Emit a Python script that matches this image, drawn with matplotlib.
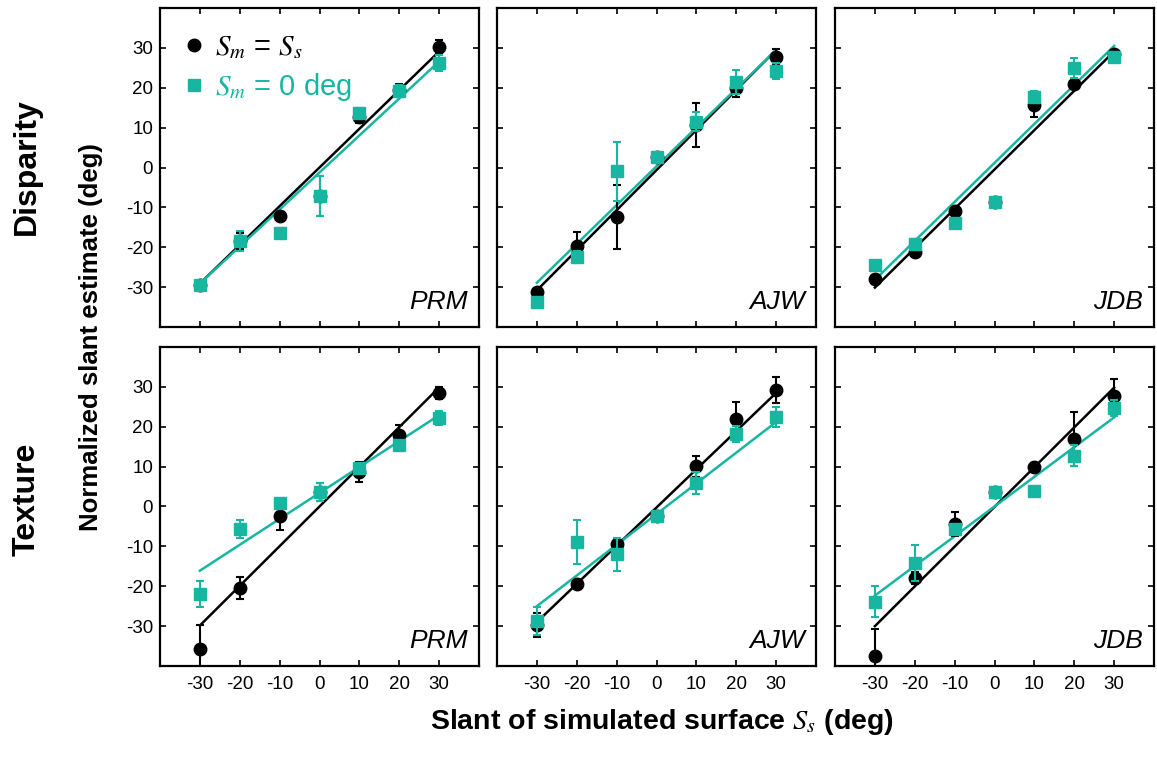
import numpy as np
import matplotlib
matplotlib.use("Agg")
import matplotlib.pyplot as plt
from matplotlib.lines import Line2D

plt.rcParams['font.family'] = ['Liberation Sans', 'DejaVu Sans']
plt.rcParams['mathtext.fontset'] = 'stix'
plt.rcParams['axes.unicode_minus'] = False

BLACK = '#000000'
TEAL = '#17b6a1'

# Data
slants = [-30, -20, -10, 0, 10, 20, 30]
subjects = ['PRM', 'AJW', 'JDB']
cues = ['Disparity', 'Texture']

# Disparity, S_m = S_s (black) and S_m = 0 deg (teal)
disp_prm_same = [-29.5, -18.5, -12.2, -7.1, 12.6, 19.5, 30.2]
disp_prm_same_err = [1.0, 2.0, 0.8, 5.0, 1.5, 1.5, 1.8]
disp_prm_zero = [-29.5, -18.4, -16.4, -7.1, 13.6, 19.3, 26.3]
disp_prm_zero_err = [1.0, 2.5, 0.5, 5.0, 1.0, 1.5, 2.0]

disp_ajw_same = [-31.2, -19.6, -12.5, 2.7, 10.7, 20.0, 27.8]
disp_ajw_same_err = [1.0, 3.3, 8.0, 1.0, 5.5, 2.2, 2.0]
disp_ajw_zero = [-33.7, -22.5, -1.0, 2.7, 11.5, 21.5, 24.2]
disp_ajw_zero_err = [1.0, 1.5, 7.5, 1.0, 2.3, 3.0, 2.0]

disp_jdb_same = [-27.9, -21.3, -10.8, -8.7, 15.7, 21.0, 28.5]
disp_jdb_same_err = [1.0, 1.0, 1.0, 0.5, 3.0, 1.0, 1.0]
disp_jdb_zero = [-24.5, -19.3, -13.8, -8.7, 17.8, 24.9, 27.6]
disp_jdb_zero_err = [1.0, 1.0, 0.5, 0.5, 1.5, 2.5, 1.0]

# Texture
tex_prm_same = [-35.8, -20.4, -2.3, 3.7, 8.7, 17.9, 28.5]
tex_prm_same_err = [6.0, 2.8, 3.6, 2.3, 2.5, 2.5, 1.5]
tex_prm_zero = [-22.0, -5.7, 1.0, 3.7, 9.7, 15.4, 22.2]
tex_prm_zero_err = [3.3, 2.3, 0.5, 2.3, 1.0, 1.0, 1.8]

tex_ajw_same = [-29.7, -19.5, -9.3, -2.3, 10.1, 21.9, 29.2]
tex_ajw_same_err = [3.0, 1.0, 1.0, 1.0, 2.6, 4.3, 3.3]
tex_ajw_zero = [-28.7, -8.9, -12.0, -2.3, 5.9, 18.3, 22.5]
tex_ajw_zero_err = [3.6, 5.4, 4.1, 1.0, 2.7, 2.0, 2.5]

tex_jdb_same = [-37.5, -18.0, -4.3, 3.7, 9.9, 16.9, 27.8]
tex_jdb_same_err = [6.7, 1.5, 3.0, 1.0, 1.0, 6.8, 4.2]
tex_jdb_zero = [-23.9, -14.1, -5.7, 3.7, 3.9, 12.7, 24.7]
tex_jdb_zero_err = [3.9, 4.5, 1.0, 1.0, 1.0, 2.6, 2.1]

# Linear fits (slope, intercept) per subject: PRM, AJW, JDB
disp_same_fit = [(0.970, 0.0), (1.005, -0.65), (0.987, -0.5)]
disp_zero_fit = [(0.928, -1.25), (0.973, 0.3), (0.978, 1.15)]
tex_same_fit = [(0.995, 0.0), (0.958, -0.25), (0.997, -0.1)]
tex_zero_fit = [(0.650, 3.4), (0.770, -1.9), (0.745, 0.0)]

panels = [
    [(disp_prm_same, disp_prm_same_err, disp_prm_zero, disp_prm_zero_err),
     (disp_ajw_same, disp_ajw_same_err, disp_ajw_zero, disp_ajw_zero_err),
     (disp_jdb_same, disp_jdb_same_err, disp_jdb_zero, disp_jdb_zero_err)],
    [(tex_prm_same, tex_prm_same_err, tex_prm_zero, tex_prm_zero_err),
     (tex_ajw_same, tex_ajw_same_err, tex_ajw_zero, tex_ajw_zero_err),
     (tex_jdb_same, tex_jdb_same_err, tex_jdb_zero, tex_jdb_zero_err)],
]
fits = [(disp_same_fit, disp_zero_fit), (tex_same_fit, tex_zero_fit)]

W, H = 1157, 760
fig = plt.figure(figsize=(W / 100, H / 100), dpi=100)

col_left = [160, 497, 835]
row_top = [8, 347]
pw, ph = 319, 319

x = np.array(slants)
xfit = np.array([-30, 30])

for r in range(2):
    for c in range(3):
        ax = fig.add_axes([col_left[c] / W, 1 - (row_top[r] + ph) / H, pw / W, ph / H])
        same, same_err, zero, zero_err = panels[r][c]
        s_fit = fits[r][0][c]
        z_fit = fits[r][1][c]

        ax.plot(xfit, s_fit[0] * xfit + s_fit[1], color=BLACK, lw=1.8, zorder=2)
        ax.plot(xfit, z_fit[0] * xfit + z_fit[1], color=TEAL, lw=1.8, zorder=2)

        ax.errorbar(x, same, yerr=same_err, fmt='o', color=BLACK, ms=9,
                    elinewidth=1.5, capsize=3, capthick=1.5, zorder=3)
        ax.errorbar(x, zero, yerr=zero_err, fmt='s', color=TEAL, ms=8.5,
                    elinewidth=1.5, capsize=3, capthick=1.5, zorder=4)

        ax.set_xlim(-40, 40)
        ax.set_ylim(-40, 40)
        ax.set_xticks(slants)
        ax.set_yticks(slants)
        ax.tick_params(direction='in', top=True, right=True, length=4,
                       width=1.2, labelsize=13.5)
        ax.tick_params(axis='y', pad=5)
        ax.tick_params(axis='x', pad=7)
        if r == 0:
            ax.set_xticklabels([])
        if c > 0:
            ax.set_yticklabels([])
        for sp in ax.spines.values():
            sp.set_linewidth(1.6)

        ax.text(0.965, 0.04, subjects[c], transform=ax.transAxes, ha='right',
                va='bottom', fontsize=19, style='italic')

        if r == 0 and c == 0:
            handles = [
                Line2D([], [], marker='o', color=BLACK, ls='none', ms=9),
                Line2D([], [], marker='s', color=TEAL, ls='none', ms=8.5),
            ]
            ax.legend(handles, [r'$S_m$ = $S_s$', r'$S_m$ = 0 deg'],
                      loc='upper left', bbox_to_anchor=(0.0, 1.0),
                      frameon=False, fontsize=21, handlelength=0.6,
                      handletextpad=0.45, labelspacing=0.35,
                      borderaxespad=0.45, labelcolor=[BLACK, TEAL])

# Row labels
fig.text(27 / W, 1 - 167 / H, cues[0], rotation=90, ha='center', va='center',
         fontsize=23, fontweight='bold')
fig.text(27 / W, 1 - 499 / H, cues[1], rotation=90, ha='center', va='center',
         fontsize=23, fontweight='bold')

# Axis labels
fig.text(91 / W, 1 - 337 / H, 'Normalized slant estimate (deg)', rotation=90,
         ha='center', va='center', fontsize=18.5, fontweight='bold')
fig.text(662 / W, 1 - 722 / H, r'Slant of simulated surface $S_s$ (deg)',
         ha='center', va='center', fontsize=20.5, fontweight='bold')

fig.savefig('out.png', dpi=100)
